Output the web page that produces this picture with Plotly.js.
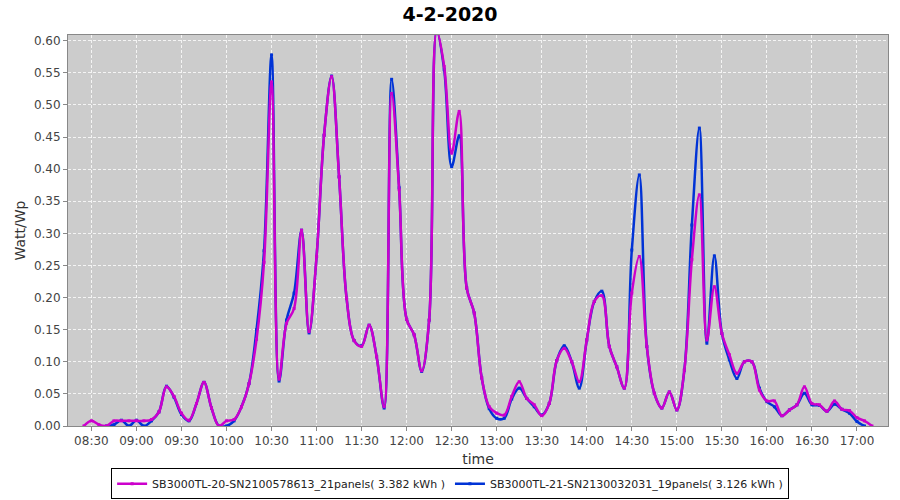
<!DOCTYPE html>
<html><head><meta charset="utf-8">
<script src="https://cdn.plot.ly/plotly-3.0.1.min.js"></script>
<style>html,body{margin:0;padding:0;background:#fff}#chart{width:900px;height:500px}</style>
</head><body><div id="chart"></div>
<script>
const day = "2020-02-04";
const chartTitle = "4-2-2020";
const times = ["08:25","08:30","08:35","08:40","08:45","08:50","08:55","09:00","09:05","09:10","09:15","09:20","09:25","09:30","09:35","09:40","09:45","09:50","09:55","10:00","10:05","10:10","10:15","10:20","10:25","10:30","10:35","10:40","10:45","10:50","10:55","11:00","11:05","11:10","11:15","11:20","11:25","11:30","11:35","11:40","11:45","11:50","11:55","12:00","12:05","12:10","12:15","12:20","12:25","12:30","12:35","12:40","12:45","12:50","12:55","13:00","13:05","13:10","13:15","13:20","13:25","13:30","13:35","13:40","13:45","13:50","13:55","14:00","14:05","14:10","14:15","14:20","14:25","14:30","14:35","14:40","14:45","14:50","14:55","15:00","15:05","15:10","15:15","15:20","15:25","15:30","15:35","15:40","15:45","15:50","15:55","16:00","16:05","16:10","16:15","16:20","16:25","16:30","16:35","16:40","16:45","16:50","16:55","17:00","17:05","17:10"];
const sb20 = [0.000,0.008,0.002,0.000,0.008,0.008,0.008,0.008,0.008,0.010,0.022,0.061,0.046,0.020,0.009,0.035,0.068,0.028,0.000,0.008,0.010,0.030,0.066,0.135,0.255,0.536,0.073,0.160,0.183,0.305,0.147,0.264,0.453,0.544,0.388,0.199,0.133,0.124,0.157,0.108,0.030,0.518,0.368,0.166,0.142,0.086,0.165,0.615,0.560,0.425,0.490,0.215,0.176,0.075,0.030,0.020,0.017,0.046,0.069,0.043,0.033,0.016,0.035,0.102,0.121,0.100,0.069,0.134,0.194,0.203,0.124,0.092,0.059,0.207,0.264,0.124,0.051,0.028,0.053,0.025,0.087,0.259,0.360,0.134,0.217,0.144,0.111,0.082,0.100,0.100,0.056,0.039,0.039,0.016,0.025,0.033,0.061,0.035,0.033,0.023,0.039,0.026,0.024,0.013,0.008,0.000];
const sb21 = [null,null,null,0.000,0.002,0.009,0.000,0.009,0.000,0.008,0.022,0.062,0.045,0.018,0.008,0.035,0.068,0.028,0.000,0.000,0.008,0.030,0.066,0.150,0.273,0.578,0.070,0.165,0.207,0.305,0.145,0.264,0.453,0.545,0.388,0.199,0.133,0.125,0.157,0.108,0.028,0.540,0.371,0.166,0.142,0.085,0.165,0.615,0.555,0.404,0.452,0.215,0.176,0.075,0.027,0.012,0.012,0.042,0.059,0.043,0.030,0.017,0.035,0.102,0.125,0.100,0.059,0.134,0.194,0.210,0.124,0.092,0.059,0.274,0.391,0.124,0.051,0.028,0.053,0.025,0.087,0.313,0.464,0.129,0.265,0.144,0.103,0.074,0.100,0.100,0.059,0.038,0.030,0.016,0.025,0.033,0.051,0.033,0.032,0.023,0.034,0.026,0.020,0.007,0.000,null];
const name20 = "SB3000TL-20-SN2100578613_21panels( 3.382 kWh )";
const name21 = "SB3000TL-21-SN2130032031_19panels( 3.126 kWh )";
const yTicks = [0,0.05,0.10,0.15,0.20,0.25,0.30,0.35,0.40,0.45,0.50,0.55,0.60];

const xs = times.map(t => day + " " + t);
const font = "DejaVu Sans, sans-serif";

const traces = [
  {x: xs, y: sb21, name: name21, type: "scatter", mode: "lines+markers",
   line: {color: "#0033D6", width: 2.5, shape: "spline", smoothing: 1},
   marker: {size: 3, color: "#0033D6", symbol: "square"}, legendrank: 2, connectgaps: false},
  {x: xs, y: sb20, name: name20, type: "scatter", mode: "lines+markers",
   line: {color: "#CC00CC", width: 2.5, shape: "spline", smoothing: 1},
   marker: {size: 3, color: "#CC00CC", symbol: "square"}, legendrank: 1, connectgaps: false}
];

const layout = {
  width: 900, height: 500,
  margin: {l: 68, r: 12, t: 35, b: 74, autoexpand: false},
  paper_bgcolor: "#ffffff", plot_bgcolor: "#cccccc",
  font: {family: font, size: 12, color: "#444444"},
  title: {text: "<b>" + chartTitle + "</b>", x: 0.5, xanchor: "center", y: 0.972, yanchor: "middle",
          font: {family: font, size: 19, color: "#000000"}},
  showlegend: true,
  legend: {orientation: "h", x: 0.466, xanchor: "center", y: -0.148, yanchor: "middle",
           bordercolor: "#000000", borderwidth: 1, bgcolor: "#ffffff",
           font: {family: font, size: 11, color: "#222222"}, itemwidth: 30, traceorder: "normal"},
  xaxis: {type: "date", range: [day + " 08:14:24", day + " 17:20:40"],
          tick0: day + " 08:30", dtick: 30 * 60 * 1000, tickformat: "%H:%M",
          showgrid: true, gridcolor: "#f4f4f4", griddash: "3px,2px", gridwidth: 1,
          ticks: "outside", ticklen: 4, tickcolor: "#888888", automargin: false,
          showline: true, linecolor: "#888888", linewidth: 1, mirror: true, zeroline: false,
          tickfont: {family: font, size: 12, color: "#444444"},
          title: {text: "time", font: {family: font, size: 14, color: "#333333"}, standoff: 6}},
  yaxis: {range: [0, 0.609], tickvals: yTicks, tickformat: ".2f",
          showgrid: true, gridcolor: "#f4f4f4", griddash: "3px,2px", gridwidth: 1,
          ticks: "outside", ticklen: 4, tickcolor: "#888888", automargin: false,
          showline: true, linecolor: "#888888", linewidth: 1, mirror: true, zeroline: false,
          tickfont: {family: font, size: 12, color: "#444444"},
          title: {text: "Watt/Wp", font: {family: font, size: 14, color: "#333333"}, standoff: 4}}
};

Plotly.newPlot("chart", traces, layout, {displayModeBar: false, staticPlot: true});
</script>
</body></html>
